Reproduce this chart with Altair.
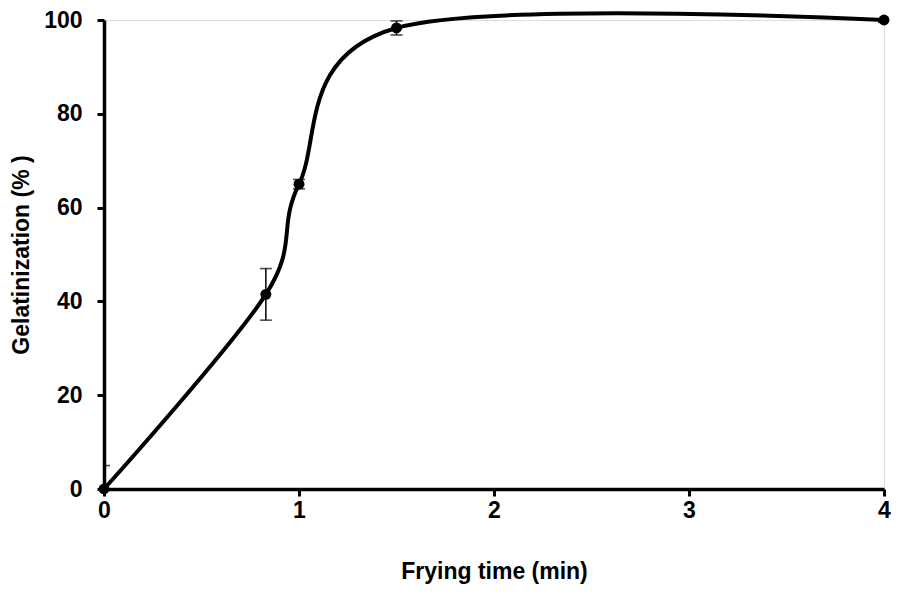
import altair as alt
import pandas as pd

time_min = [0.0, 0.83, 1.0, 1.5, 4.0]
gelat = [0.0, 41.5, 65.0, 98.3, 100.0]
err = [5.0, 5.5, 1.0, 1.5, 0.5]

df = pd.DataFrame({"t": time_min, "g": gelat, "e": err})
df["lo"] = df["g"] - df["e"]
df["hi"] = df["g"] + df["e"]

FONT = "Liberation Sans"

x = alt.X("t:Q", scale=alt.Scale(domain=[0, 4], nice=False),
          axis=alt.Axis(title="Frying time (min)", values=[0, 1, 2, 3, 4], format="d",
                        grid=False, domainColor="black", domainWidth=3.5,
                        tickColor="black", tickWidth=3, tickSize=7,
                        labelFlush=False, labelOverlap=False,
                        labelFont=FONT, labelFontWeight="bold", labelFontSize=23,
                        labelColor="black", labelPadding=3,
                        titleFont=FONT, titleFontWeight="bold", titleFontSize=23,
                        titleColor="black", titlePadding=38))
y = alt.Y("g:Q", scale=alt.Scale(domain=[0, 100], nice=False),
          axis=alt.Axis(title="Gelatinization (% )", values=[0, 20, 40, 60, 80, 100],
                        grid=False, domainColor="black", domainWidth=3.5,
                        tickColor="black", tickWidth=3, tickSize=7,
                        labelFlush=False,
                        labelFont=FONT, labelFontWeight="bold", labelFontSize=23,
                        labelColor="black", labelPadding=15,
                        titleFont=FONT, titleFontWeight="bold", titleFontSize=23,
                        titleColor="black", titlePadding=10))

base = alt.Chart(df)

line = base.mark_line(interpolate="cardinal", tension=0, color="black",
                      strokeWidth=4).encode(x=x, y=y)

rules = base.mark_rule(color="black", strokeWidth=1.5, clip=True).encode(
    x="t:Q", y="lo:Q", y2="hi:Q")
cap_hi = base.mark_tick(color="black", orient="horizontal", size=12,
                        thickness=1.6, clip=True).encode(x="t:Q", y="hi:Q")
cap_lo = base.mark_tick(color="black", orient="horizontal", size=12,
                        thickness=1.6, clip=True).encode(x="t:Q", y="lo:Q")

pts = base.mark_point(filled=True, shape="circle", size=120, color="black",
                      opacity=1).encode(x="t:Q", y="g:Q")

chart = alt.layer(rules, cap_hi, cap_lo, line, pts).properties(
    width=780, height=469,
    padding={"left": 96, "top": 12, "right": 7, "bottom": 96},
    autosize=alt.AutoSizeParams(type="none"),
).configure_view(stroke=None).configure(background="white")

chart.save("out.html", embed_options={"renderer": "svg", "actions": False})
